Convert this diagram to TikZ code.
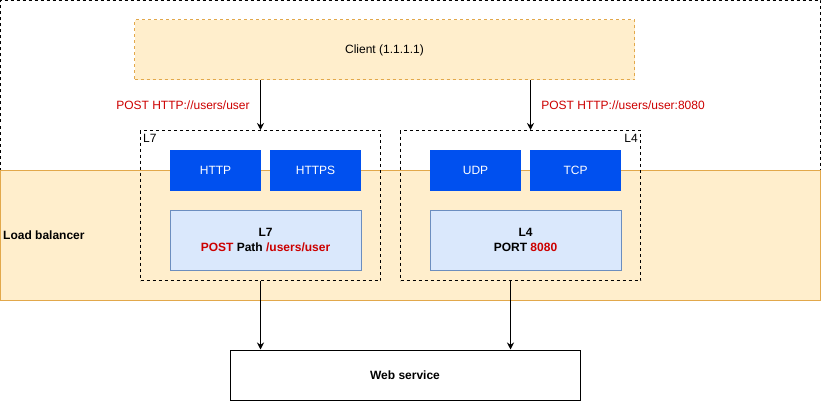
\documentclass[tikz,border=0pt]{standalone}
\usepackage{fontspec}
\setmainfont{Liberation Sans}
\usetikzlibrary{arrows.meta}
\definecolor{lbfill}{HTML}{FFEECC}
\definecolor{lbline}{HTML}{E2A84B}
\definecolor{protoblue}{HTML}{0050EF}
\definecolor{layerfill}{HTML}{DAE8FC}
\definecolor{layerline}{HTML}{6C8EBF}
\definecolor{urlred}{HTML}{CC0000}

\begin{document}
\begin{tikzpicture}[x=1pt,y=-1pt,font=\fontsize{12}{15}\selectfont,
  box/.style={rectangle,inner sep=0pt,line width=1pt},
  dashbox/.style={box,draw,dash pattern=on 3pt off 3pt},
  proto/.style={box,fill=protoblue,text=white,minimum width=91pt,minimum height=41pt},
  layer/.style={box,draw=layerline,fill=layerfill,minimum width=191pt,minimum height=60pt,align=center,font=\fontsize{12}{15}\selectfont\bfseries},
  arr/.style={-{Stealth[length=7pt,width=7pt]},line width=1pt},
  url/.style={text=urlred}]
\useasboundingbox (0,0) rectangle (821,401);

% Outer frame
\draw[line width=1pt,dash pattern=on 3pt off 3pt] (0.5,170.5) |- (820.5,0.5) -- (820.5,170.5);

% Client
\node[box,draw=lbline,fill=lbfill,dash pattern=on 3pt off 3pt,minimum width=500pt,minimum height=60pt] (client) at (384.5,50) {Client (1.1.1.1)};

% Load balancer band
\node[box,draw=lbline,fill=lbfill,minimum width=820pt,minimum height=130pt] (lb) at (410.5,235.5) {};
\node[anchor=west,font=\fontsize{12}{15}\selectfont\bfseries,inner sep=0pt] (lblabel) at (3,235) {Load balancer};

% Layer groups
\node[dashbox,minimum width=240pt,minimum height=150pt] (l7box) at (260.5,205.5) {};
\node[dashbox,minimum width=240pt,minimum height=150pt] (l4box) at (520.5,205.5) {};
\node[anchor=north west,inner sep=3pt,yshift=-1pt] (l7tag) at (l7box.north west) {L7};
\node[anchor=north east,inner sep=3pt,yshift=-1pt] (l4tag) at (l4box.north east) {L4};

% Protocols
\node[proto] (http) at (215.5,170.5) {HTTP};
\node[proto] (https) at (315.5,170.5) {HTTPS};
\node[proto] (udp) at (475.5,170.5) {UDP};
\node[proto] (tcp) at (575.5,170.5) {TCP};

% Rules
\node[layer] (l7rule) at (265.5,240) {L7\\\textcolor{urlred}{POST} Path \textcolor{urlred}{/users/user}};
\node[layer] (l4rule) at (525.5,240) {L4\\PORT \textcolor{urlred}{8080}};

% Web service
\node[box,draw,minimum width=350pt,minimum height=50pt,font=\fontsize{12}{15}\selectfont\bfseries] (web) at (405,375) {Web service};

% Arrows
\draw[arr] (l7box.north |- client.south) -- node[url,left=7pt] (req7) {POST HTTP://users/user} (l7box.north);
\draw[arr] ([xshift=10pt]l4box.north |- client.south) -- node[url,right=7pt] (req4) {POST HTTP://users/user:8080} ([xshift=10pt]l4box.north);
\draw[arr] (l7box.south) -- (l7box.south |- web.north);
\draw[arr] ([xshift=-10pt]l4box.south) -- ([xshift=-10pt]l4box.south |- web.north);
\end{tikzpicture}
\end{document}
